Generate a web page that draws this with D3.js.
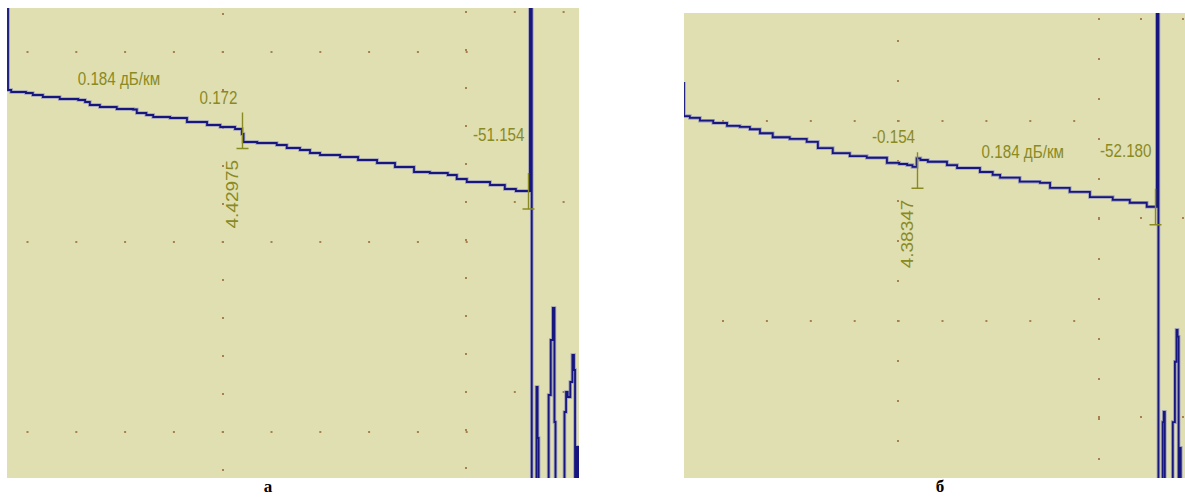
<!DOCTYPE html>
<html>
<head>
<meta charset="utf-8">
<script src="https://cdnjs.cloudflare.com/ajax/libs/d3/7.8.5/d3.min.js"></script>
<style>
  html, body { margin: 0; padding: 0; background: #fff; }
  svg { display: block; }
</style>
</head>
<body>
<svg id="chart" width="1185" height="497"></svg>
<script>
// Reflectogram a: [distance km, level dB], drawn as steps.
var traceA = [
  [0, 0.3], [0, -1.64], [0.06, -1.68], [0.34, -1.70], [0.47, -1.74],
  [0.66, -1.78], [0.98, -1.82], [1.33, -1.84], [1.46, -1.88], [1.55, -1.94],
  [1.74, -1.98], [2.06, -2.02], [2.37, -2.03], [2.44, -2.10], [2.62, -2.14],
  [2.75, -2.18], [3.07, -2.20], [3.39, -2.28], [3.77, -2.34], [4.02, -2.38],
  [4.30, -2.42], [4.43, -2.52], [4.46, -2.68], [4.72, -2.70], [5.09, -2.74],
  [5.28, -2.80], [5.53, -2.84], [5.72, -2.90], [5.91, -2.94], [6.29, -2.98],
  [6.63, -3.04], [6.99, -3.10], [7.33, -3.18], [7.69, -3.28], [7.99, -3.30],
  [8.33, -3.34], [8.50, -3.42], [8.69, -3.48], [9.13, -3.54], [9.41, -3.62],
  [9.62, -3.66], [9.886, 0.3], [9.92, -9.6]
];
var noiseA = [
  [9.92, -9.6], [10.01, -7.58], [10.03, -8.6], [10.05, -9.6], [10.24, -7.74],
  [10.28, -6.64], [10.32, -6.0], [10.35, -8.28], [10.37, -9.6], [10.54, -8.08],
  [10.57, -7.68], [10.60, -7.78], [10.65, -7.48], [10.69, -6.94],
  [10.72, -7.24], [10.74, -9.6], [10.77, -8.78], [10.80, -9.6]
];
var eventKmA = [4.42975, 9.85];
var eventDbA = [-2.45, -3.66];
var eventLossA = ['0.172', '-51.154'];
var sectionKmA = [0, 4.42975];

// Reflectogram b.
var traceB = [
  [0, -1.21], [0, -1.81], [0.11, -1.84], [0.30, -1.89], [0.55, -1.93],
  [0.81, -1.98], [1.05, -2.00], [1.24, -2.04], [1.43, -2.11], [1.67, -2.18],
  [1.99, -2.21], [2.31, -2.26], [2.52, -2.37], [2.80, -2.46], [3.12, -2.51],
  [3.44, -2.54], [3.82, -2.63], [4.05, -2.65], [4.20, -2.67], [4.30, -2.70],
  [4.38, -2.55], [4.45, -2.58], [4.59, -2.61], [4.95, -2.67], [5.14, -2.72],
  [5.57, -2.79], [5.81, -2.84], [5.95, -2.89], [6.32, -2.96], [6.70, -2.98],
  [6.89, -3.07], [7.26, -3.14], [7.64, -3.23], [8.07, -3.28], [8.39, -3.33],
  [8.71, -3.40], [8.90, 0.3], [8.93, -8.4]
];
var noiseB = [
  [8.93, -8.4], [9.01, -7.18], [9.03, -7.0], [9.05, -8.4], [9.20, -7.18],
  [9.24, -6.12], [9.27, -5.56], [9.29, -5.68], [9.31, -8.4], [9.33, -7.63],
  [9.35, -8.4]
];
var eventKmB = [4.38347, 8.86];
var eventDbB = [-2.76, -3.40];
var eventLossB = ['-0.154', '-52.180'];
var sectionKmB = [4.38347, 8.86];

var attenuationText = '0.184 дБ/км';
var captions = ['а', 'б'];

var BG = '#e0dfb2';
var DOT = '#a8804e';
var INK = '#8a8a22';
var LINE = '#16167e';
var HALO = '#8a8abc';

/**
 * Panel layout: screen box, value domains, dotted grid (px inside panel).
 */
var panels = [
  {
    x: 7, y: 8, w: 572, h: 470,
    km: [-0.019, 10.815], db: [0, -9.4],
    trace: traceA, noise: noiseA,
    eventKm: eventKmA, eventDb: eventDbA, eventLoss: eventLossA,
    sectionKm: sectionKmA, attenDx: -6,
    caption: captions[0], captionX: 268,
    cols: [[216, 6, 38, 13], [459, 4, 38, 13]],
    rows: [[44, 20.5, 48.8, 10], [234, 20.5, 48.8, 10], [424, 20.5, 48.8, 10],
      [4, 459, 48.8, 3], [194, 459, 48.8, 3], [384, 459, 48.8, 3]]
  },
  {
    x: 684, y: 13, w: 501, h: 465,
    km: [0, 9.43], db: [0, -8.16],
    trace: traceB, noise: noiseB,
    eventKm: eventKmB, eventDb: eventDbB, eventLoss: eventLossB,
    sectionKm: sectionKmB, attenDx: -13,
    caption: captions[1], captionX: 940,
    cols: [[214, 28, 40, 11], [415, 6, 40, 12]],
    rows: [[108, 39, 43.9, 9], [308, 39, 43.9, 9],
      [6, 415, 42, 3], [205, 415, 42, 3], [404, 415, 42, 3]]
  }
];

var svg = d3.select('#chart');

/**
 * Horizontal label, squeezed like the screen font.
 */
function label(g, text, x, y, anchor) {
  g.append('g')
    .attr('transform', 'translate(' + x + ',' + y + ') scale(0.8,1)')
    .append('text')
    .attr('text-anchor', anchor)
    .attr('font-family', 'Liberation Sans, Arial, sans-serif')
    .attr('font-size', 19)
    .attr('fill', INK)
    .text(text);
}

panels.forEach(function(p, pi) {
  var x = d3.scaleLinear().domain(p.km).range([p.x, p.x + p.w]);
  var y = d3.scaleLinear().domain(p.db).range([p.y, p.y + p.h]);

  var clipId = 'clip' + pi;
  svg.append('clipPath').attr('id', clipId)
    .append('rect')
    .attr('x', p.x).attr('y', p.y).attr('width', p.w).attr('height', p.h);

  var g = svg.append('g').attr('clip-path', 'url(#' + clipId + ')');
  g.append('rect')
    .attr('x', p.x).attr('y', p.y).attr('width', p.w).attr('height', p.h)
    .attr('fill', BG);

  // dotted grid
  var dots = [];
  p.cols.forEach(function(c) {
    for (var k = 0; k < c[3]; k++) dots.push([c[0], c[1] + k * c[2]]);
  });
  p.rows.forEach(function(r) {
    for (var k = 0; k < r[3]; k++) dots.push([r[1] + k * r[2], r[0]]);
  });
  g.selectAll('rect.dot').data(dots).enter().append('rect')
    .attr('class', 'dot')
    .attr('x', function(d) { return p.x + d[0] - 1; })
    .attr('y', function(d) { return p.y + d[1] - 1; })
    .attr('width', 2).attr('height', 2)
    .attr('fill', DOT);

  var line = d3.line()
    .x(function(d) { return x(d[0]); })
    .y(function(d) { return y(d[1]); })
    .curve(d3.curveStepAfter);

  var all = p.trace.concat(p.noise);
  g.append('path').attr('d', line(all))
    .attr('fill', 'none').attr('stroke', HALO).attr('stroke-width', 3.6)
    .attr('stroke-opacity', 0.75);
  g.append('path').attr('d', line(all))
    .attr('fill', 'none').attr('stroke', LINE).attr('stroke-width', 1.8);

  // event markers
  p.eventKm.forEach(function(km, i) {
    var ex = Math.round(x(km)) + 0.5;
    var ey = y(p.eventDb[i]);
    g.append('path')
      .attr('d', 'M' + ex + ',' + (ey - 18) + 'V' + (ey + 18) +
        'M' + (ex - 6) + ',' + (ey + 18) + 'H' + (ex + 6))
      .attr('fill', 'none').attr('stroke', INK).attr('stroke-width', 1.4);
    if (i == 0) {
      label(g, p.eventLoss[i], ex - 24, ey - 27, 'middle');
      g.append('g')
        .attr('transform', 'translate(' + (ex - 5) + ',' + (ey + 98) +
          ') scale(0.85,1) rotate(-90)')
        .append('text')
        .attr('font-family', 'Liberation Sans, Arial, sans-serif')
        .attr('font-size', 19)
        .attr('fill', INK)
        .text(String(km));
    } else {
      label(g, p.eventLoss[i], ex - 4, ey - 50, 'end');
    }
  });

  // attenuation of the section
  var mid = (p.sectionKm[0] + p.sectionKm[1]) / 2;
  var lvl = p.trace.filter(function(d) { return d[0] <= mid; }).pop()[1];
  label(g, attenuationText, x(mid) + p.attenDx, y(lvl) - 24, 'middle');

  svg.append('text')
    .attr('x', p.captionX).attr('y', 492)
    .attr('text-anchor', 'middle')
    .attr('font-family', 'Liberation Serif, Times New Roman, serif')
    .attr('font-weight', 'bold')
    .attr('font-size', 17)
    .text(p.caption);
});
</script>
</body>
</html>
